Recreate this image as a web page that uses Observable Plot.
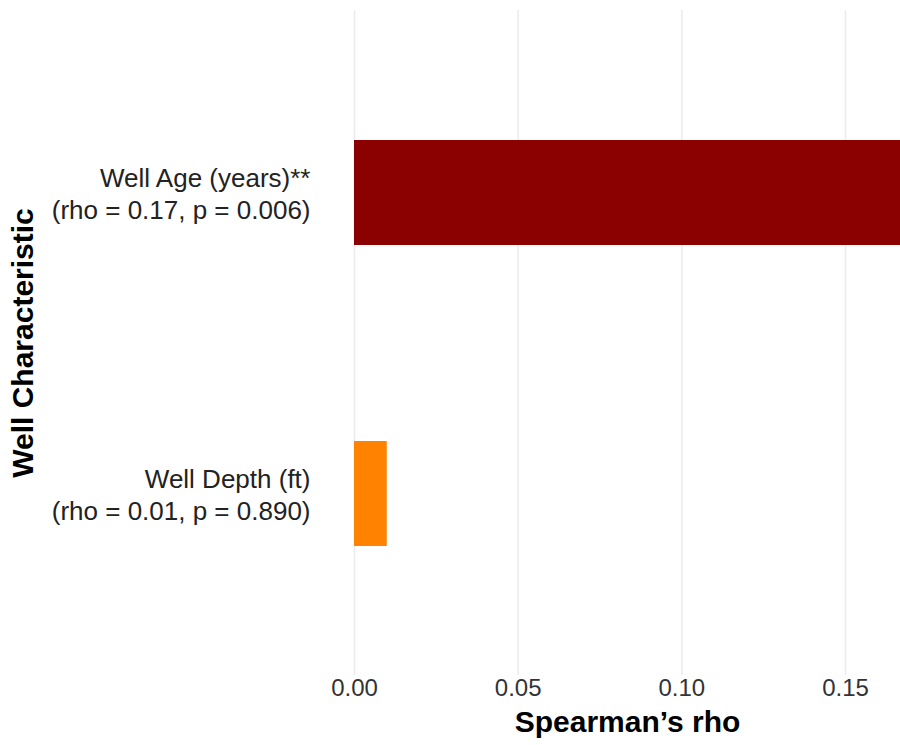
<!DOCTYPE html>
<html>
<head>
<meta charset="utf-8">
<script src="https://cdn.jsdelivr.net/npm/d3@7"></script>
<script src="https://cdn.jsdelivr.net/npm/@observablehq/plot@0.6"></script>
<style>
  html, body { margin: 0; padding: 0; background: #fff; }
  #chart { width: 900px; height: 745px; }
  svg { font-family: "Liberation Sans", Arial, Helvetica, sans-serif; }
</style>
</head>
<body>
<div id="chart"></div>
<script>
// Spearman correlation of each well characteristic
const characteristics = ["Well Age (years)", "Well Depth (ft)"];
const significance = ["**", ""];
const rhoValues = [0.17, 0.01];
const pValues = [0.006, 0.890];
const barColors = ["#8B0000", "#FF8200"];
const xTicks = [0, 0.05, 0.10, 0.15];
const xLimit = 0.1668;

const labels = characteristics.map((name, i) =>
  `${name}${significance[i]}\n(rho = ${rhoValues[i].toFixed(2)}, p = ${pValues[i].toFixed(3)})`
);
const rows = labels.map((label, i) => ({label, rho: rhoValues[i], color: barColors[i]}));

const chart = Plot.plot({
  width: 900,
  height: 745,
  marginLeft: 354,
  marginRight: 0,
  marginTop: 10,
  marginBottom: 70,
  style: {fontFamily: "'Liberation Sans', Arial, sans-serif", background: "#fff"},
  x: {domain: [0, xLimit], ticks: xTicks},
  y: {domain: labels, paddingInner: 0.652, paddingOuter: 0.427},
  color: {type: "identity"},
  marks: [
    Plot.gridX(xTicks, {stroke: "#EBEBEB", strokeOpacity: 1, strokeWidth: 1.5}),
    Plot.barX(rows, {x1: 0, x2: "rho", y: "label", fill: "color", clip: true}),
    Plot.axisX({ticks: xTicks, tickFormat: d3.format(".2f"), tickSize: 0, tickPadding: 3,
      fontSize: 24, fill: "#333", label: null}),
    Plot.axisY({tickSize: 0, tickPadding: 44, fontSize: 26, lineHeight: 1.23,
      fill: "#222", label: null}),
    Plot.text(["Spearman’s rho"], {frameAnchor: "bottom", dy: 56, fontSize: 30,
      fontWeight: "bold", fill: "#000"}),
    Plot.text(["Well Characteristic"], {frameAnchor: "left", textAnchor: "middle", rotate: -90,
      dx: -331, fontSize: 30, fontWeight: "bold", fill: "#000"})
  ]
});
document.getElementById("chart").append(chart);
</script>
</body>
</html>
